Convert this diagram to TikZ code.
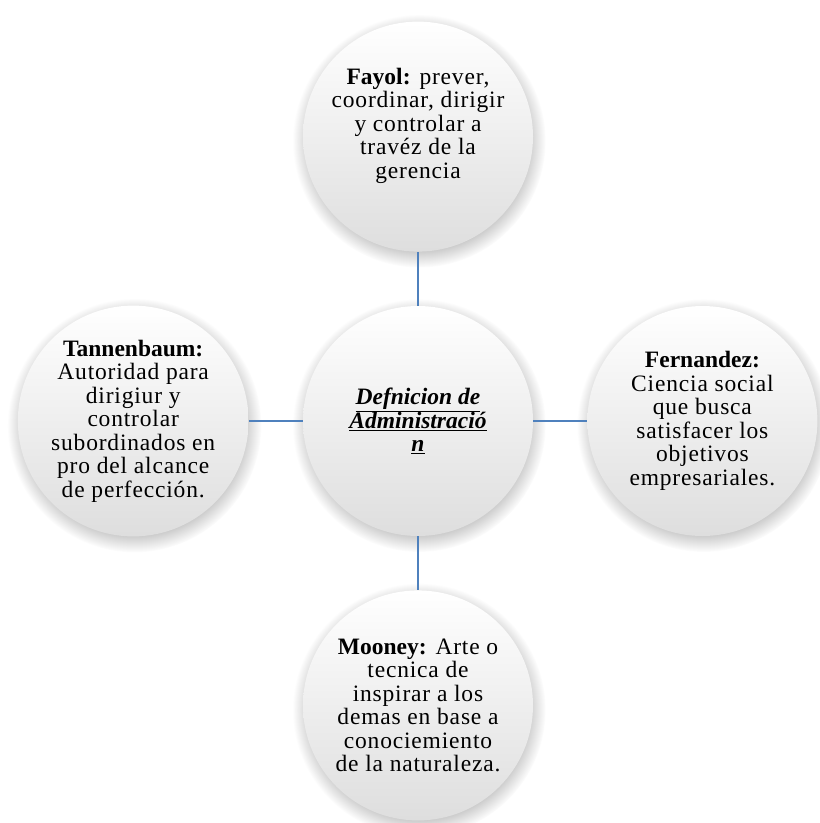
\documentclass[tikz,border=0pt]{standalone}
\usepackage{fontspec}
\setmainfont{Liberation Serif}[LetterSpace=3.5,
    BoldFeatures={LetterSpace=0}, BoldItalicFeatures={LetterSpace=0}]
\usepackage{tikz}
\usetikzlibrary{positioning, shadows, shapes}

\definecolor{linkblue}{RGB}{79,129,189}

\begin{document}
\begin{tikzpicture}[
    x=1pt, y=1pt,
    node distance=54pt,
    idea/.style={circle, minimum size=230pt, inner sep=0pt, align=center,
        top color=white, bottom color=black!13,
        circular drop shadow={shadow xshift=1pt, shadow yshift=-4pt, opacity=0.45},
        font=\fontsize{23.5}{23.5}\selectfont},
    link/.style={draw=linkblue, line width=1.5pt}]

    \useasboundingbox (0,0) rectangle (820,-823);

    \node[idea] (def) at (418,-421) {\underline{\textbf{\textit{Defnicion de}}}\\
        \underline{\textbf{\textit{Administració}}}\\ \underline{\textbf{\textit{n}}}};
    \node[idea, above=of def] (fayol) {\textbf{Fayol:} prever,\\ coordinar, dirigir\\
        y controlar a\\ travéz de la\\ gerencia\\[4pt]};
    \node[idea, left=of def] (tann) {\textbf{Tannenbaum:}\\ Autoridad para\\ dirigiur y\\
        controlar\\ subordinados en\\ pro del alcance\\ de perfección.};
    \node[idea, right=of def] (fern) {\textbf{Fernandez:}\\ Ciencia social\\ que busca\\
        satisfacer los\\ objetivos\\ empresariales.};
    \node[idea, below=of def] (mooney) {\textbf{Mooney:} Arte o\\ tecnica de\\
        inspirar a los\\ demas en base a\\ conociemiento\\ de la naturaleza.};

    \draw[link] (def) -- (fayol);
    \draw[link] (def) -- (tann);
    \draw[link] (def) -- (fern);
    \draw[link] (def) -- (mooney);
\end{tikzpicture}
\end{document}
